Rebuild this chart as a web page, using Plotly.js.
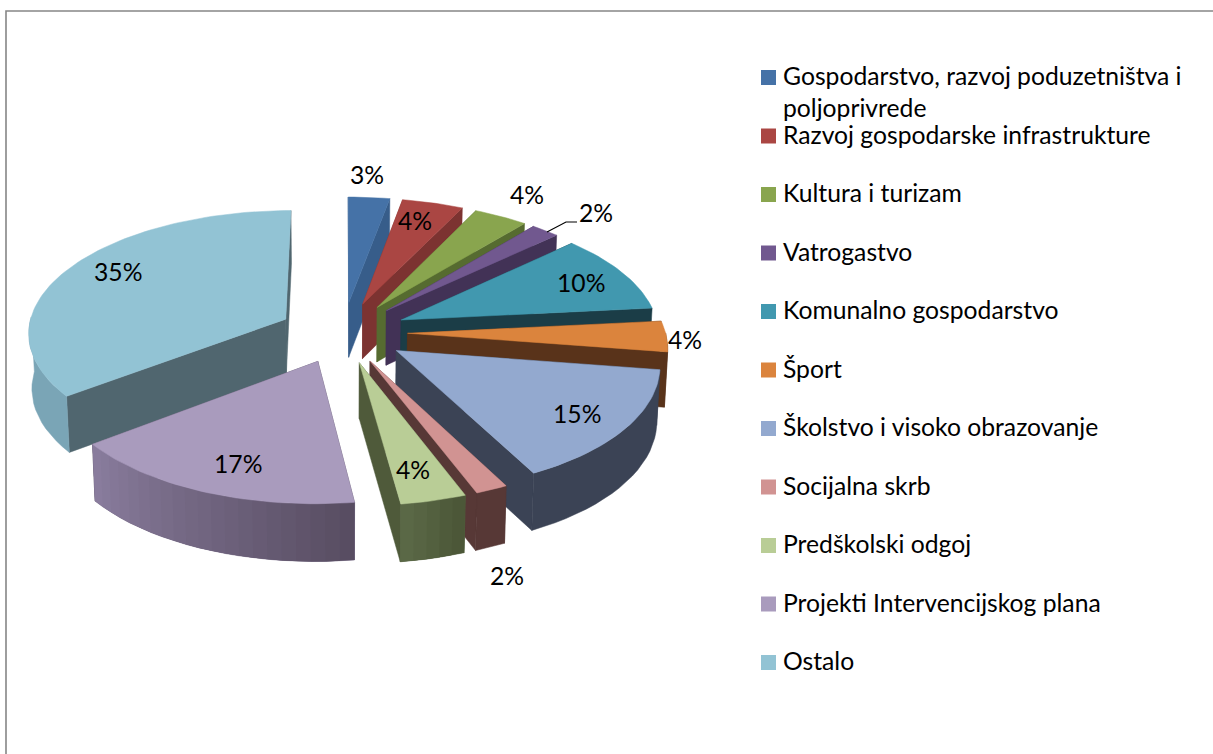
<!DOCTYPE html>
<html><head><meta charset="utf-8">
<script src="https://cdn.plot.ly/plotly-3.0.1.min.js"></script>
<style>html,body{margin:0;padding:0;background:#fff}#c{width:1213px;height:754px}</style>
</head><body><div id="c"></div>
<script>
const categories = ["Gospodarstvo, razvoj poduzetništva i","Razvoj gospodarske infrastrukture","Kultura i turizam","Vatrogastvo","Komunalno gospodarstvo","Šport","Školstvo i visoko obrazovanje","Socijalna skrb","Predškolski odgoj","Projekti Intervencijskog plana","Ostalo"];
const values = [2.9,4.3,3.8,2,10.4,4.0,15.0,1.8,3.65,16.75,35.4];
const topColors = ["#4572A7","#AA4643","#89A54E","#71588F","#4198AF","#DB843D","#93A9CF","#D19392","#B9CD96","#A99BBD","#92C3D4"];
const cutColors = ["#375D8A","#7C3331","#566B30","#423256","#1B3D47","#59331A","#3B4355","#573836","#4F5A3A","#574C61","#50666F"];
const outerLeft = ["#375D8A","#7C3331","#566B30","#423256","#1B3D47","#59331A","#3B4355","#573836","#5C6A48","#8A7D9E","#7AA5B6"];
const outerRight = ["#375D8A","#7C3331","#566B30","#423256","#1B3D47","#59331A","#3B4355","#573836","#4A5536","#574C61","#7AA5B6"];
const paintOrder = [0,1,2,3,4,5,10,9,6,7,8];
const labelX = [367,415,527,596,581,685,577,507,413,238,118];
const labelY = [176,222,196,214,284,341,415,577,471,465,273];

// pseudo-3D view of the pie
const view = {cx:343, cy:332.5, R:258, Ry:122, p:0.1, ex:0.25, h:55};
function project(u,v){const d=1-view.p*v;return [view.cx+view.R*u/d, view.cy+view.Ry*v/d, v];}
function lower(pt){return [view.cx+(pt[0]-view.cx)*0.99, pt[1]+view.h*(1+0.04*pt[2])];}
const total = values.reduce((a,b)=>a+b,0);
let cum=0;
const slices = values.map((v,i)=>{const a0=cum/total*2*Math.PI;cum+=v;const a1=cum/total*2*Math.PI;return {i,a0,a1,m:(a0+a1)/2};});
function pt(s,a,r){return project(view.ex*Math.sin(s.m)+r*Math.sin(a), -view.ex*Math.cos(s.m)-r*Math.cos(a));}
function mix(c1,c2,t){const n=c=>[1,3,5].map(k=>parseInt(c.substr(k,2),16));const a=n(c1),b=n(c2);
  return "rgb("+a.map((x,j)=>Math.round(x+(b[j]-x)*t)).join(",")+")";}
function poly(points,color,name,lw){return {type:"scatter",mode:"lines",x:points.map(p=>p[0]),y:points.map(p=>p[1]),fill:"toself",fillcolor:color,
  line:{color:color,width:lw===undefined?0.5:lw},hoverinfo:"skip",showlegend:false,name:name};}

const traces=[];
paintOrder.forEach(idx=>{
  const s=slices[idx], name=categories[idx];
  const ap=pt(s,0,0);
  [s.a0,s.a1].forEach(a=>{const o=pt(s,a,1);traces.push(poly([ap,o,lower(o),lower(ap),ap],cutColors[idx],name));});
  // outer wall: only the part that faces the viewer
  const n=Math.max(2,Math.ceil((s.a1-s.a0)/(Math.PI/60)));
  const vis=[];
  for(let k=0;k<=n;k++){const a=s.a0+(s.a1-s.a0)*k/n; if(Math.cos(a)<0.02) vis.push(a);}
  if(vis.length>1){
    const upper=vis.map(a=>pt(s,a,1)), low=upper.map(lower).reverse();
    const base=upper.concat(low,[upper[0]]);
    traces.push(poly(base,mix(outerRight[idx],outerLeft[idx],0.5),name));
    if(outerLeft[idx]!==outerRight[idx]){
      for(let k=0;k<vis.length-1;k++){
        const p=upper[k],q=upper[Math.min(k+2,vis.length-1)];
        traces.push(poly([p,q,lower(q),lower(p),p],mix(outerRight[idx],outerLeft[idx],(k+0.5)/(vis.length-1)),name,0));
      }
    }
  }
  const top=[ap];const m=Math.ceil((s.a1-s.a0)/(Math.PI/120));
  for(let k=0;k<=m;k++) top.push(pt(s,s.a0+(s.a1-s.a0)*k/m,1));
  top.push(ap);
  traces.push(poly(top,topColors[idx],name));
});

// legend
const legendLeft=768.5, legendTextX=784, legendTop=77.5, legendStep=58.5;
traces.push({type:"scatter",mode:"markers",x:categories.map(()=>legendLeft),y:categories.map((c,i)=>legendTop+i*legendStep),
  marker:{symbol:"square",size:15,color:topColors,line:{width:0}},hoverinfo:"skip",showlegend:false});

const txtFont={family:"Lato, Carlito, sans-serif",size:24.7,color:"#000"};
const anns=[];
values.forEach((v,i)=>anns.push({x:labelX[i],y:labelY[i],xref:"x",yref:"y",text:Math.round(v)+"%",showarrow:false,font:txtFont,xanchor:"center",yanchor:"middle",yshift:2}));
categories.forEach((c,i)=>anns.push({x:legendTextX,y:legendTop+i*legendStep,xref:"x",yref:"y",text:c,showarrow:false,font:txtFont,xanchor:"left",yanchor:"middle",xshift:-3,yshift:2}));
anns.push({x:legendTextX,y:109,xref:"x",yref:"y",text:"poljoprivrede",showarrow:false,font:txtFont,xanchor:"left",yanchor:"middle",xshift:-3,yshift:2});

const leaderX=[547,566,577], leaderY=[232,222,222];
traces.push({type:"scatter",mode:"lines",x:leaderX,y:leaderY,line:{color:"#000",width:1.2},hoverinfo:"skip",showlegend:false});

const layout={width:1213,height:754,margin:{l:0,r:0,t:0,b:0},paper_bgcolor:"#fff",plot_bgcolor:"#fff",showlegend:false,
  xaxis:{range:[0,1213],visible:false,fixedrange:true},yaxis:{range:[754,0],visible:false,fixedrange:true},
  annotations:anns,
  shapes:[{type:"rect",xref:"x",yref:"y",x0:6,y0:11,x1:1260,y1:800,line:{color:"#868686",width:1.6},layer:"below"}]};
Plotly.newPlot("c",traces,layout,{displayModeBar:false,staticPlot:true});
</script></body></html>
